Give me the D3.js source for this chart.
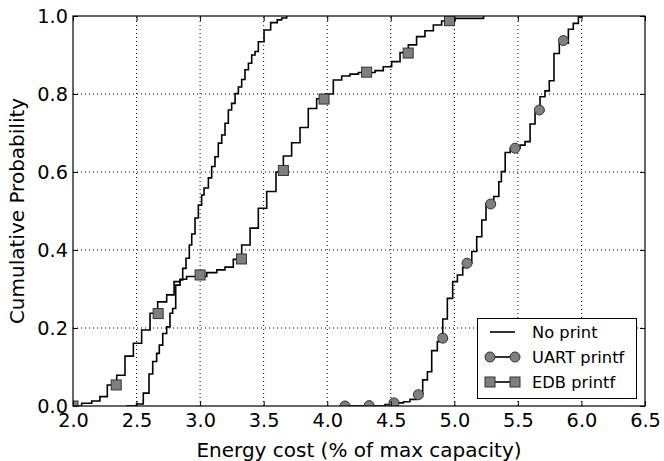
<!DOCTYPE html>
<html><head><meta charset="utf-8">
<script src="https://cdn.jsdelivr.net/npm/d3@7/dist/d3.min.js"></script>
<style>body{margin:0;background:#fff}svg{display:block}</style>
</head><body>
<svg id="c" width="664" height="461"></svg>
<script>
// ---- data ----
const seriesNames = ["No print", "UART printf", "EDB printf"];
const xTicks = [2.0, 2.5, 3.0, 3.5, 4.0, 4.5, 5.0, 5.5, 6.0, 6.5];
const yTicks = [0.0, 0.2, 0.4, 0.6, 0.8, 1.0];
const xLabel = "Energy cost (% of max capacity)";
const yLabel = "Cumulative Probability";

// step vertices: at x the CDF jumps to p
const noPrintX = [2.42,2.50,2.553,2.598,2.627,2.658,2.679,2.706,2.737,2.763,2.784,2.808,2.842,2.863,2.889,2.915,2.934,2.96,2.986,3.012,3.031,3.065,3.091,3.117,3.143,3.170,3.196,3.222,3.248,3.275,3.301,3.327,3.353,3.380,3.406,3.432,3.458,3.503,3.555,3.607,3.642,3.681];
const noPrintP = [0,0.005,0.033,0.082,0.114,0.135,0.156,0.186,0.203,0.238,0.25,0.31,0.323,0.353,0.379,0.413,0.441,0.482,0.515,0.541,0.559,0.585,0.614,0.639,0.674,0.695,0.725,0.759,0.776,0.801,0.818,0.837,0.862,0.879,0.9,0.909,0.934,0.964,0.983,0.99,0.995,1.0];

const uartX = [4.14,4.455,4.525,4.60,4.651,4.704,4.751,4.788,4.822,4.866,4.909,4.945,4.987,5.024,5.066,5.085,5.137,5.176,5.216,5.249,5.31,5.35,5.37,5.40,5.44,5.517,5.556,5.596,5.635,5.674,5.713,5.747,5.784,5.826,5.897,5.936,5.976,6.002];
const uartP = [0,0.004,0.008,0.011,0.017,0.033,0.067,0.088,0.142,0.165,0.223,0.276,0.319,0.336,0.355,0.366,0.396,0.434,0.477,0.518,0.537,0.575,0.601,0.65,0.661,0.669,0.678,0.723,0.757,0.793,0.808,0.834,0.904,0.93,0.966,0.981,0.997,1.0];

const edbX = [2.0,2.068,2.147,2.212,2.27,2.344,2.409,2.475,2.54,2.606,2.666,2.737,2.795,2.842,2.894,3.052,3.131,3.196,3.261,3.327,3.393,3.458,3.524,3.597,3.655,3.72,3.786,3.851,3.917,3.983,4.048,4.114,4.179,4.245,4.376,4.441,4.507,4.573,4.638,4.703,4.769,4.835,4.90,5.005,5.23];
const edbP = [0,0.007,0.013,0.024,0.054,0.079,0.128,0.161,0.195,0.238,0.267,0.285,0.319,0.325,0.332,0.342,0.349,0.356,0.376,0.413,0.456,0.507,0.55,0.60,0.641,0.675,0.714,0.763,0.788,0.80,0.836,0.846,0.851,0.855,0.86,0.87,0.883,0.906,0.926,0.947,0.962,0.977,0.987,0.994,1.0];

// marker positions
const uartMarkX = [4.14,4.33,4.525,4.717,4.909,5.10,5.286,5.478,5.669,5.858];
const uartMarkP = [0,0.001,0.008,0.029,0.174,0.366,0.518,0.661,0.759,0.937];
const edbMarkX = [2.0,2.34,2.67,3.0,3.325,3.655,3.975,4.31,4.637,4.962];
const edbMarkP = [0,0.054,0.237,0.336,0.377,0.604,0.787,0.856,0.905,0.988];

// ---- chart ----
const W = 664, H = 461;
const m = {left: 73, right: 19, top: 16, bottom: 55};
const svg = d3.select("#c");
const x = d3.scaleLinear().domain([2.0, 6.5]).range([m.left, W - m.right]);
const y = d3.scaleLinear().domain([0, 1]).range([H - m.bottom, m.top]);
const font = "'DejaVu Sans', sans-serif";
const markFill = "#7f7f7f";

svg.append("defs").append("clipPath").attr("id", "plot")
  .append("rect").attr("x", x(2.0)).attr("y", y(1))
  .attr("width", x(6.5) - x(2.0)).attr("height", y(0) - y(1));

// grid
const g = svg.append("g");
g.selectAll(".gx").data(xTicks.slice(1, -1)).join("line")
  .attr("x1", d => x(d)).attr("x2", d => x(d))
  .attr("y1", y(0)).attr("y2", y(1))
  .attr("stroke", "#000").attr("stroke-width", 1).attr("stroke-dasharray", "1,3");
g.selectAll(".gy").data(yTicks.slice(1, -1)).join("line")
  .attr("y1", d => y(d)).attr("y2", d => y(d))
  .attr("x1", x(2.0)).attr("x2", x(6.5))
  .attr("stroke", "#000").attr("stroke-width", 1).attr("stroke-dasharray", "1,3");

// curves
const plot = svg.append("g").attr("clip-path", "url(#plot)");
const line = d3.line().x(d => x(d[0])).y(d => y(d[1])).curve(d3.curveStepAfter);
const series = [
  {name: seriesNames[0], pts: d3.zip(noPrintX, noPrintP)},
  {name: seriesNames[1], pts: d3.zip(uartX, uartP)},
  {name: seriesNames[2], pts: d3.zip(edbX, edbP)}
];
plot.append("g").selectAll("path").data(series).join("path")
  .attr("d", d => line(d.pts))
  .attr("fill", "none").attr("stroke", "#000").attr("stroke-width", 1.6);

// markers
const sq = 10, cr = 5;
plot.append("g").selectAll("circle").data(d3.zip(uartMarkX, uartMarkP)).join("circle")
  .attr("cx", d => x(d[0])).attr("cy", d => y(d[1])).attr("r", cr)
  .attr("fill", markFill).attr("stroke", "#333").attr("stroke-width", 1);
plot.append("g").selectAll("rect").data(d3.zip(edbMarkX, edbMarkP)).join("rect")
  .attr("x", d => x(d[0]) - sq/2).attr("y", d => y(d[1]) - sq/2)
  .attr("width", sq).attr("height", sq)
  .attr("fill", markFill).attr("stroke", "#333").attr("stroke-width", 1);

// axes (ticks inward on all sides)
const tl = 5;
const axB = svg.append("g").attr("transform", `translate(0,${y(0)})`)
  .call(d3.axisBottom(x).tickValues(xTicks).tickFormat(d3.format(".1f")).tickSizeInner(-tl).tickSizeOuter(0));
const axT = svg.append("g").attr("transform", `translate(0,${y(1)})`)
  .call(d3.axisTop(x).tickValues(xTicks).tickFormat("").tickSizeInner(-tl).tickSizeOuter(0));
const axL = svg.append("g").attr("transform", `translate(${x(2.0)},0)`)
  .call(d3.axisLeft(y).tickValues(yTicks).tickFormat(d3.format(".1f")).tickSizeInner(-tl).tickSizeOuter(0));
const axR = svg.append("g").attr("transform", `translate(${x(6.5)},0)`)
  .call(d3.axisRight(y).tickValues(yTicks).tickFormat("").tickSizeInner(-tl).tickSizeOuter(0));
[axB, axT, axL, axR].forEach(a => {
  a.select(".domain").remove();
  a.selectAll("line").attr("stroke", "#000");
  a.selectAll("text").attr("font-family", font).attr("font-size", 19.3).attr("fill", "#000");
});
axB.selectAll("text").attr("dy", null).attr("y", 15).attr("dominant-baseline", "middle");
axL.selectAll("text").attr("x", -5).attr("dy", "0.35em");

// frame
svg.append("rect").attr("x", x(2.0)).attr("y", y(1))
  .attr("width", x(6.5) - x(2.0)).attr("height", y(0) - y(1))
  .attr("fill", "none").attr("stroke", "#000").attr("stroke-width", 1.2);

// labels
svg.append("text").attr("x", (x(2.0) + x(6.5)) / 2).attr("y", 456.5)
  .attr("text-anchor", "middle").attr("font-family", font).attr("font-size", 20)
  .text(xLabel);
svg.append("text").attr("transform", `translate(24,${(y(0) + y(1)) / 2}) rotate(-90)`)
  .attr("text-anchor", "middle").attr("font-family", font).attr("font-size", 20)
  .text(yLabel);

// legend
const lg = svg.append("g");
lg.append("rect").attr("x", 477.5).attr("y", 318.5).attr("width", 159).attr("height", 80)
  .attr("fill", "#fff").attr("stroke", "#000").attr("stroke-width", 1);
const ly = [332, 357, 382];
const lx1 = 490, lx2 = 515;
seriesNames.forEach((name, i) => {
  lg.append("line").attr("x1", lx1).attr("x2", lx2).attr("y1", ly[i]).attr("y2", ly[i])
    .attr("stroke", "#000").attr("stroke-width", 1.6);
  if (i === 1) {
    [lx1, lx2].forEach(px => lg.append("circle").attr("cx", px).attr("cy", ly[i]).attr("r", cr)
      .attr("fill", markFill).attr("stroke", "#333"));
  } else if (i === 2) {
    [lx1, lx2].forEach(px => lg.append("rect").attr("x", px - sq/2).attr("y", ly[i] - sq/2)
      .attr("width", sq).attr("height", sq).attr("fill", markFill).attr("stroke", "#333"));
  }
  lg.append("text").attr("x", 532).attr("y", ly[i]).attr("dy", "0.35em")
    .attr("font-family", font).attr("font-size", 16.3).text(name);
});
</script>
</body></html>
